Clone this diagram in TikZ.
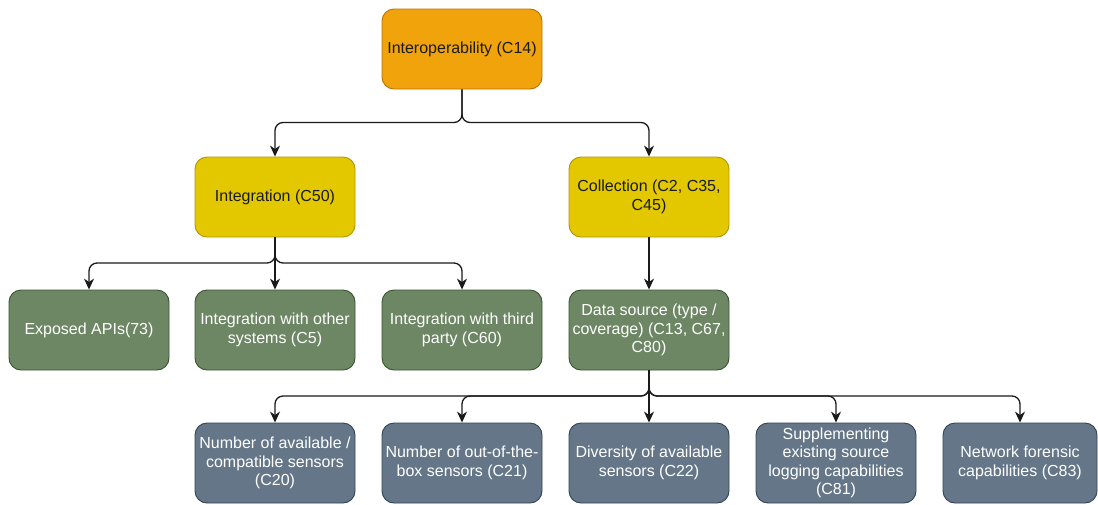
\documentclass[tikz,border=0pt]{standalone}
\usepackage{fontspec}
\setmainfont{Liberation Sans}
\usetikzlibrary{arrows.meta}

\definecolor{orangeFill}{HTML}{F0A30A}
\definecolor{orangeLine}{HTML}{BD7000}
\definecolor{yellowFill}{HTML}{E3C800}
\definecolor{yellowLine}{HTML}{B09500}
\definecolor{greenFill}{HTML}{6D8764}
\definecolor{greenLine}{HTML}{3A5431}
\definecolor{slateFill}{HTML}{647687}
\definecolor{slateLine}{HTML}{314354}
\definecolor{darkText}{HTML}{1A1A1A}
\definecolor{wireColor}{HTML}{1A1A1A}

\tikzset{
  box/.style={draw, rounded corners=12pt, minimum width=160pt, minimum height=80pt,
    inner sep=0pt, align=center, line width=0.9pt,
    font=\fontsize{16}{18.5}\selectfont},
  rootbox/.style={box, fill=orangeFill, draw=orangeLine, text=darkText},
  areabox/.style={box, fill=yellowFill, draw=yellowLine, text=darkText},
  itembox/.style={box, fill=greenFill, draw=greenLine, text=white},
  leafbox/.style={box, fill=slateFill, draw=slateLine, text=white},
  conn/.style={draw=wireColor, line width=1.3pt, rounded corners=8pt,
    -{Stealth[length=11pt,width=10pt,inset=3.5pt]}}
}

\begin{document}
\begin{tikzpicture}[x=1pt,y=-1pt]
\useasboundingbox (0,0) rectangle (1098,504);

% bus levels of the connectors
\coordinate (busA) at (0,122.5);
\coordinate (busB) at (0,263);
\coordinate (busC) at (0,396);

% root
\node[rootbox] (root) at (462,49) {Interoperability (C14)};

% second level
\node[areabox] (integ) at (275,197) {Integration (C50)};
\node[areabox] (coll)  at (649,197) {Collection (C2, C35,\\C45)};

% third level
\node[itembox] (apis)  at (89,330)  {Exposed APIs(73)};
\node[itembox] (other) at (275,330) {Integration with other\\systems (C5)};
\node[itembox] (third) at (462,330) {Integration with third\\party (C60)};
\node[itembox] (dsrc)  at (649,330) {Data source (type /\\coverage) (C13, C67,\\C80)};

% fourth level
\node[leafbox] (numav) at (275,463) {Number of available /\\compatible sensors\\(C20)};
\node[leafbox] (numbox) at (462,463) {Number of out-of-the-\\box sensors (C21)};
\node[leafbox] (divers) at (649,463) {Diversity of available\\sensors (C22)};
\node[leafbox] (suppl) at (836,463) {Supplementing\\existing source\\logging capabilities\\(C81)};
\node[leafbox, minimum width=154pt] (netfor) at (1020,463) {Network forensic\\capabilities (C83)};

% connectors
\foreach \src/\dst/\bus in {root/integ/busA, root/coll/busA,
    integ/apis/busB, integ/other/busB, integ/third/busB,
    dsrc/numav/busC, dsrc/numbox/busC, dsrc/divers/busC, dsrc/suppl/busC, dsrc/netfor/busC}
  \draw[conn] (\src.south) -- (\src.south |- \bus) -- (\dst.north |- \bus) -- (\dst.north);
\draw[conn] (coll.south) -- (dsrc.north);

\end{tikzpicture}
\end{document}
